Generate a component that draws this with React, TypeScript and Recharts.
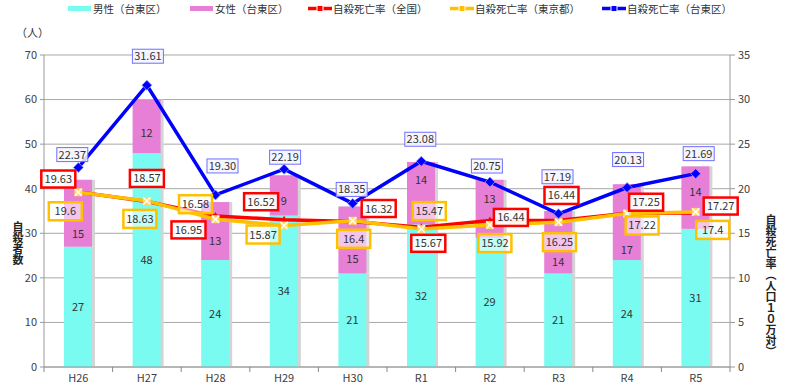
import React from 'react';
import { ComposedChart, Bar, Line, XAxis, YAxis, CartesianGrid, LabelList } from 'recharts';

const categories = ['H26', 'H27', 'H28', 'H29', 'H30', 'R1', 'R2', 'R3', 'R4', 'R5'];
const maleTaito = [27, 48, 24, 34, 21, 32, 29, 21, 24, 31];
const femaleTaito = [15, 12, 13, 9, 15, 14, 13, 14, 17, 14];
const rateNational = [19.63, 18.57, 16.95, 16.52, 16.32, 15.67, 16.44, 16.44, 17.25, 17.27];
const rateTokyo = [19.6, 18.63, 16.58, 15.87, 16.4, 15.47, 15.92, 16.25, 17.22, 17.4];
const rateTaito = [22.37, 31.61, 19.3, 22.19, 18.35, 23.08, 20.75, 17.19, 20.13, 21.69];
const leftTicks = [0, 10, 20, 30, 40, 50, 60, 70];
const rightTicks = [0, 5, 10, 15, 20, 25, 30, 35];

const data = categories.map((c, i) => ({
  name: c,
  male: maleTaito[i],
  female: femaleTaito[i],
  national: rateNational[i],
  tokyo: rateTokyo[i],
  taito: rateTaito[i],
}));

// label placement offsets (layout only)
const offNational: [number, number][] = [[-20, -13], [0, -23], [-27, 14], [-23, -18], [26, -13], [7, 16], [21, -3], [3, -25], [19, -11], [25, -7]];
const offTokyo: [number, number][] = [[-13, 19], [-7, 18], [-20, -15], [-21, 9], [1, 18], [8, -18], [5, 18], [1, 20], [15, 12], [17, 18]];
const offTaito: [number, number][] = [[-6, -13], [1, -29], [7, -29], [1, -12], [-1, -14], [-1, -22], [-3, -16], [-1, -37], [1, -28], [3, -20]];
const offFemale: number[] = [21, 7, 10, 6, 19, -13, -10, 20, 28, -6];

const FONT = "'Noto Sans CJK JP', 'Noto Sans', sans-serif";
const CYAN = '#79FBF1';
const PINK = '#E77FD6';
const RED = '#FF0000';
const ORANGE = '#FFC000';
const BLUE = '#0000FF';
const HALF_BAND = 34.3;

const shadowBar = (fill: string) => (props: any) => {
  const { x, y, width, height } = props;
  if (!height || height <= 0) return <g />;
  return (
    <g>
      <rect x={x + 2} y={y} width={width + 1} height={height} fill="#d4d4d4" />
      <rect x={x} y={y} width={width} height={height} fill={fill} />
    </g>
  );
};

const barLabel = (offsets: number[] | null) => (props: any) => {
  const { x, y, width, height, value, index } = props;
  const dy = offsets ? offsets[index] || 0 : 0;
  return (
    <text key={`bl-${index}`} x={x + width / 2} y={y + height / 2 + dy + 4} textAnchor="middle" fontSize={11} fill="#333" fontFamily={FONT}>
      {value}
    </text>
  );
};

const boxLabel = (opts: {
  offsets: [number, number][];
  stroke: string;
  fill: string;
  fillOpacity: number;
  strokeWidth: number;
  w: number;
  h: number;
  fmt: (v: number) => string;
}) => (props: any) => {
  const { x, y, index, value } = props;
  const [dx, dy] = opts.offsets[index] || [0, 0];
  const cx = x + dx;
  const cy = y + dy;
  return (
    <g key={`lb-${index}`}>
      <rect
        x={cx - opts.w / 2}
        y={cy - opts.h / 2}
        width={opts.w}
        height={opts.h}
        fill={opts.fill}
        fillOpacity={opts.fillOpacity}
        stroke={opts.stroke}
        strokeWidth={opts.strokeWidth}
      />
      <text x={cx} y={cy + 4} textAnchor="middle" fontSize={11} fill="#333" fontFamily={FONT}>
        {opts.fmt(Number(value))}
      </text>
    </g>
  );
};

const diamondDot = (props: any) => {
  const { cx, cy, index } = props;
  const s = 5;
  return (
    <polygon
      key={`d-${index}`}
      points={`${cx},${cy - s} ${cx + s},${cy} ${cx},${cy + s} ${cx - s},${cy}`}
      fill={BLUE}
      stroke="#9c9cff"
      strokeWidth={0.8}
    />
  );
};

const crossDot = (props: any) => {
  const { cx, cy, index } = props;
  return (
    <g key={`c-${index}`}>
      <rect x={cx - 4} y={cy - 4} width={8} height={8} fill="#FFD966" />
      <line x1={cx - 3.5} y1={cy - 3.5} x2={cx + 3.5} y2={cy + 3.5} stroke="#fff" strokeWidth={1.4} />
      <line x1={cx - 3.5} y1={cy + 3.5} x2={cx + 3.5} y2={cy - 3.5} stroke="#fff" strokeWidth={1.4} />
    </g>
  );
};

const triDot = (props: any) => {
  const { cx, cy, index } = props;
  return (
    <polygon key={`t-${index}`} points={`${cx},${cy - 4} ${cx + 4},${cy + 3} ${cx - 4},${cy + 3}`} fill={RED} />
  );
};

const XTick = (props: any) => {
  const { x, y, payload, index } = props;
  return (
    <g>
      <line x1={x + HALF_BAND} x2={x + HALF_BAND} y1={y} y2={y + 5} stroke="#888" />
      {index === 0 && <line x1={x - HALF_BAND} x2={x - HALF_BAND} y1={y} y2={y + 5} stroke="#888" />}
      <text x={x} y={y + 15} textAnchor="middle" fontSize={11} fill="#404040" fontFamily={FONT}>
        {payload.value}
      </text>
    </g>
  );
};

const legendItems = [
  { label: '男性（台東区）', kind: 'bar', color: CYAN, x: 68 },
  { label: '女性（台東区）', kind: 'bar', color: PINK, x: 190 },
  { label: '自殺死亡率（全国）', kind: 'line', color: RED, x: 308 },
  { label: '自殺死亡率（東京都）', kind: 'line', color: ORANGE, x: 450 },
  { label: '自殺死亡率（台東区）', kind: 'line', color: BLUE, x: 602 },
];

export default function App() {
  return (
    <div style={{ position: 'absolute', left: 0, top: 0, width: 801, height: 389, background: '#fff', fontFamily: FONT }}>
      {legendItems.map((it) => (
        <div key={it.label} style={{ position: 'absolute', left: it.x, top: 0, height: 17, display: 'flex', alignItems: 'center', fontSize: 10.5, color: '#333', whiteSpace: 'nowrap' }}>
          <svg width={24} height={17} style={{ display: 'block' }}>
            {it.kind === 'bar' ? (
              <rect x={0} y={6} width={23} height={5} fill={it.color} />
            ) : (
              <g>
                <line x1={0} x2={24} y1={8.5} y2={8.5} stroke={it.color} strokeWidth={3.5} />
                <rect x={9} y={5.5} width={6} height={6} fill={it.color} stroke="#fff" strokeWidth={1} />
              </g>
            )}
          </svg>
          <span style={{ marginLeft: 1 }}>{it.label}</span>
        </div>
      ))}
      <div style={{ position: 'absolute', left: 16, top: 24, fontSize: 11, color: '#333' }}>（人）</div>
      <div style={{ position: 'absolute', left: 11, top: 221, fontSize: 11, fontWeight: 'bold', color: '#222', writingMode: 'vertical-rl', lineHeight: '13px' }}>自殺者数</div>
      <div style={{ position: 'absolute', left: 764, top: 214, fontSize: 11, fontWeight: 'bold', color: '#222', writingMode: 'vertical-rl', lineHeight: '13px' }}>自殺死亡率（人口１０万対）</div>
      <ComposedChart
        width={801}
        height={389}
        data={data}
        margin={{ top: 55, right: 31, bottom: 0, left: 14 }}
        style={{ position: 'absolute', left: 0, top: 0 }}
      >
        <CartesianGrid yAxisId="left" vertical={false} stroke="#a8a8a8" strokeWidth={1} />
        <XAxis
          dataKey="name"
          interval={0}
          height={22}
          tickLine={false}
          tickSize={0}
          tickMargin={0}
          tick={<XTick />}
          axisLine={{ stroke: '#999' }}
        />
        <YAxis
          yAxisId="left"
          width={30}
          domain={[0, 70]}
          ticks={leftTicks}
          tickSize={4}
          tickMargin={3}
          axisLine={{ stroke: '#999' }}
          tickLine={{ stroke: '#999' }}
          tick={{ fontSize: 11, fill: '#404040', fontFamily: FONT }}
        />
        <YAxis
          yAxisId="right"
          orientation="right"
          width={40}
          domain={[0, 35]}
          ticks={rightTicks}
          tickSize={5}
          tickMargin={3}
          axisLine={{ stroke: '#999' }}
          tickLine={{ stroke: '#999' }}
          tick={{ fontSize: 11, fill: '#404040', fontFamily: FONT }}
        />
        <Bar yAxisId="left" dataKey="male" stackId="a" barSize={28} fill={CYAN} shape={shadowBar(CYAN)} isAnimationActive={false}>
          <LabelList dataKey="male" content={barLabel(null)} />
        </Bar>
        <Bar yAxisId="left" dataKey="female" stackId="a" barSize={28} fill={PINK} shape={shadowBar(PINK)} isAnimationActive={false}>
          <LabelList dataKey="female" content={barLabel(offFemale)} />
        </Bar>
        <Line yAxisId="right" dataKey="national" stroke={RED} strokeWidth={3.5} dot={triDot} activeDot={false} isAnimationActive={false}>
          <LabelList
            dataKey="national"
            content={boxLabel({ offsets: offNational, stroke: RED, fill: '#fff', fillOpacity: 0.92, strokeWidth: 2.5, w: 34, h: 17, fmt: (v) => String(v) })}
          />
        </Line>
        <Line yAxisId="right" dataKey="tokyo" stroke={ORANGE} strokeWidth={3.5} dot={crossDot} activeDot={false} isAnimationActive={false}>
          <LabelList
            dataKey="tokyo"
            content={boxLabel({ offsets: offTokyo, stroke: ORANGE, fill: '#fff', fillOpacity: 0.55, strokeWidth: 2.5, w: 33, h: 18, fmt: (v) => String(v) })}
          />
        </Line>
        <Line yAxisId="right" dataKey="taito" stroke={BLUE} strokeWidth={3.5} dot={diamondDot} activeDot={false} isAnimationActive={false}>
          <LabelList
            dataKey="taito"
            content={boxLabel({ offsets: offTaito, stroke: '#6f6fff', fill: '#f4f4ff', fillOpacity: 0.85, strokeWidth: 1, w: 31, h: 14, fmt: (v) => v.toFixed(2) })}
          />
        </Line>
      </ComposedChart>
    </div>
  );
}
